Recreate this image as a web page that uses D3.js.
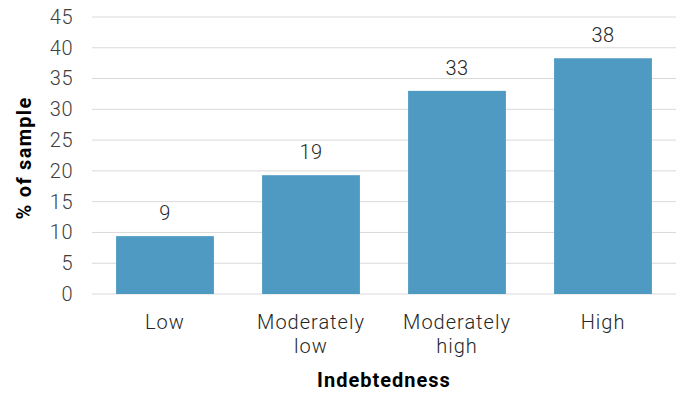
<!DOCTYPE html>
<html>
<head>
<meta charset="utf-8">
<script src="https://cdn.jsdelivr.net/npm/d3@7"></script>
<style>
  html, body { margin: 0; padding: 0; background: #fff; }
  svg { display: block; font-family: Roboto, "Noto Sans", sans-serif; }
</style>
</head>
<body>
<svg id="chart" width="686" height="394"></svg>
<script>
// Share of sample by indebtedness level
const categories = [["Low"], ["Moderately", "low"], ["Moderately", "high"], ["High"]];
const values = [9.4, 19.3, 33.0, 38.3];
const yTicks = [0, 5, 10, 15, 20, 25, 30, 35, 40, 45];

const svg = d3.select("#chart");
const plotLeft = 92, plotRight = 676, plotTop = 17, plotBottom = 294;

const x = d3.scaleBand()
  .domain(d3.range(categories.length))
  .range([plotLeft, plotRight])
  .paddingInner(0.33)
  .paddingOuter(0.165);

const y = d3.scaleLinear().domain([0, 45]).range([plotBottom, plotTop]);

// gridlines
svg.append("g")
  .selectAll("line")
  .data(yTicks)
  .join("line")
  .attr("x1", plotLeft).attr("x2", plotRight)
  .attr("y1", d => y(d)).attr("y2", d => y(d))
  .attr("stroke", "#d9d9d9").attr("stroke-width", 1);

// y axis labels
const yAxis = d3.axisLeft(y).tickValues(yTicks).tickSize(0).tickPadding(0);
const gy = svg.append("g").attr("transform", `translate(${plotLeft - 19},0)`).call(yAxis);
gy.select(".domain").remove();
gy.selectAll("text")
  .attr("fill", "#404040")
  .style("font-size", "20px")
  .style("font-weight", 300)
  .style("letter-spacing", "0.5px")
  .style("font-family", "Roboto, sans-serif");

// bars
svg.append("g")
  .selectAll("rect")
  .data(values)
  .join("rect")
  .attr("x", (d, i) => x(i))
  .attr("width", x.bandwidth())
  .attr("y", d => y(d))
  .attr("height", d => y(0) - y(d))
  .attr("fill", "#4e9ac2");

// value labels
const fmt = d3.format(".0f");
svg.append("g")
  .selectAll("text")
  .data(values)
  .join("text")
  .attr("x", (d, i) => x(i) + x.bandwidth() / 2)
  .attr("y", d => y(d) - 16)
  .attr("text-anchor", "middle")
  .attr("fill", "#262626")
  .style("font-size", "20px")
  .style("font-weight", 300)
  .style("letter-spacing", "0.5px")
  .text(d => fmt(d));

// category labels
const cat = svg.append("g")
  .selectAll("text")
  .data(categories)
  .join("text")
  .attr("x", (d, i) => x(i) + x.bandwidth() / 2)
  .attr("y", 329)
  .attr("text-anchor", "middle")
  .attr("fill", "#262626")
  .style("font-size", "20px")
  .style("font-weight", 300)
  .style("letter-spacing", "1px");
cat.selectAll("tspan")
  .data(d => d)
  .join("tspan")
  .attr("x", function () { return this.parentNode.getAttribute("x"); })
  .attr("dy", (d, i) => i === 0 ? 0 : 24)
  .text(d => d);

// axis titles
svg.append("text")
  .attr("x", (plotLeft + plotRight) / 2)
  .attr("y", 387)
  .attr("text-anchor", "middle")
  .attr("fill", "#000")
  .style("font-size", "20px")
  .style("font-weight", 700)
  .style("letter-spacing", "1px")
  .text("Indebtedness");

svg.append("text")
  .attr("transform", `translate(31,158) rotate(-90)`)
  .attr("text-anchor", "middle")
  .attr("fill", "#000")
  .style("font-size", "20px")
  .style("font-weight", 700)
  .style("letter-spacing", "1.3px")
  .text("% of sample");
</script>
</body>
</html>
